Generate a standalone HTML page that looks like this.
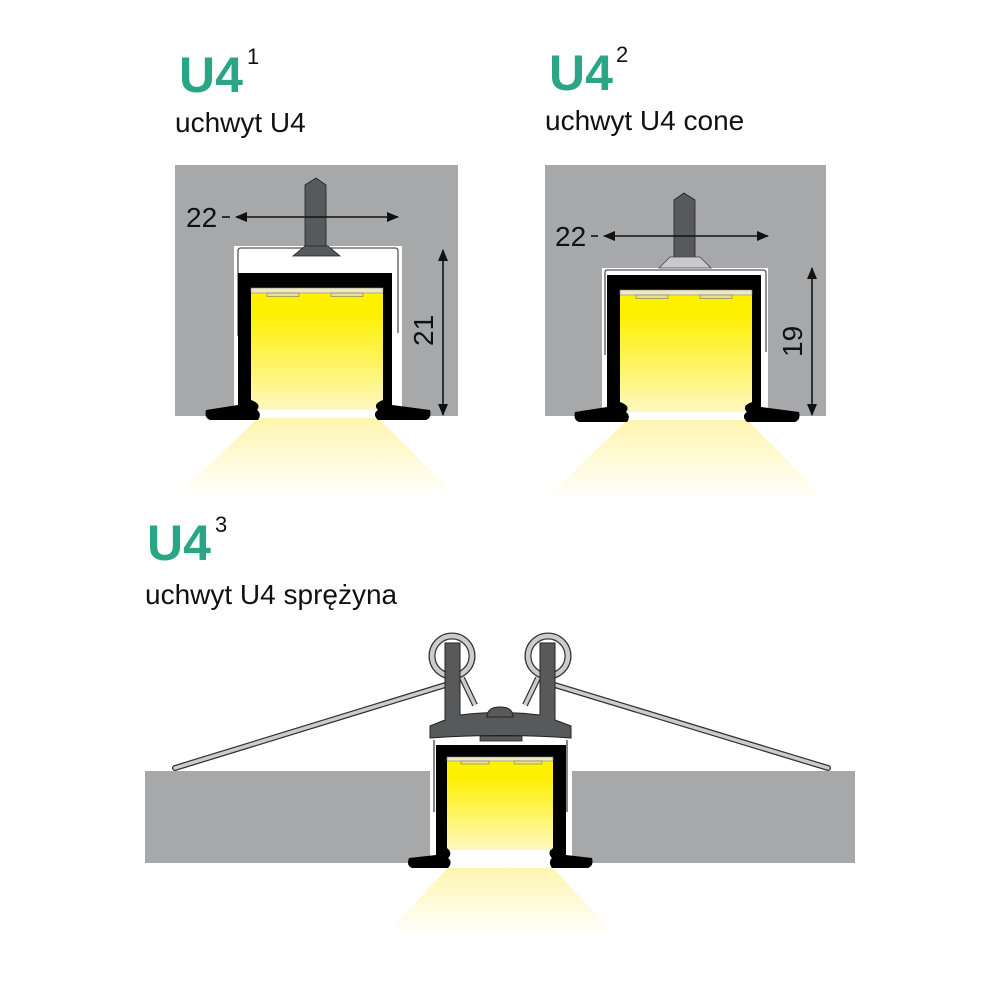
<!DOCTYPE html>
<html><head><meta charset="utf-8"><style>
html,body{margin:0;padding:0;background:#fff;}
svg{display:block;}
text{font-family:"Liberation Sans","DejaVu Sans",sans-serif;}
</style></head><body>
<svg width="1000" height="1000" viewBox="0 0 1000 1000" xmlns="http://www.w3.org/2000/svg">
<defs>
<linearGradient id="yel" x1="0" y1="0" x2="0" y2="1">
<stop offset="0" stop-color="#fff200"/><stop offset="0.2" stop-color="#fff000"/><stop offset="1" stop-color="#fff8c0"/>
</linearGradient>
<linearGradient id="cone" x1="0" y1="0" x2="0" y2="1">
<stop offset="0" stop-color="#fff5b0"/><stop offset="1" stop-color="#ffffff"/>
</linearGradient>
<marker id="ah" markerWidth="12" markerHeight="12" refX="11" refY="6" orient="auto-start-reverse" markerUnits="userSpaceOnUse">
<path d="M0,1 L12,6 L0,11 z" fill="#111"/></marker>
<g id="prof">
<polygon points="258,418 378,418 458,498 175,498" fill="url(#cone)"/>
<path d="M238,273 H392 V405 L430,410 Q432,418 426,420 H378 Q372,414 378,410 Q372,404 378,400 L378,400 H383 V288 H251 V400 Q262,404 257,410 Q262,414 258,420 H210 Q204,418 206,410 L238,405 Z" fill="#000"/>
<rect x="251" y="288" width="132" height="122" fill="url(#yel)"/>
<path d="M251,400 Q262,404 257,410 Q262,414 258,420 L251,420Z M383,400 Q372,404 378,410 Q372,414 378,420 L383,420Z" fill="#000"/>
<rect x="251" y="288" width="132" height="5" fill="#efe9c0" stroke="#888" stroke-width="0.6"/>
<rect x="267" y="293" width="32" height="3.5" fill="#e8e090" stroke="#777" stroke-width="0.6"/>
<rect x="331" y="293" width="32" height="3.5" fill="#e8e090" stroke="#777" stroke-width="0.6"/>
</g>
</defs>

<!-- ===== Profile 1 ===== -->
<text x="179" y="92" font-size="50" font-weight="bold" fill="#2aa585">U4</text>
<text x="247" y="64" font-size="22" fill="#111">1</text>
<text x="175" y="132" font-size="28" fill="#111">uchwyt U4</text>
<rect x="175" y="165" width="283" height="251" fill="#a7a8aa"/>
<rect x="234" y="246" width="168" height="170" fill="#fff"/>
<path d="M238,336 V251 Q238,248 241,248 H395 Q398,248 398,251 V333" fill="none" stroke="#555" stroke-width="1.3"/>
<path d="M305,250 L305,185 L316,178 L326,185 L326,250 Z" fill="#58595b" stroke="#222" stroke-width="0.8"/>
<path d="M293,256 L305,246 H328 L340,256 Z" fill="#58595b" stroke="#222" stroke-width="0.8"/>
<use href="#prof"/>
<line x1="236" y1="217" x2="398" y2="217" stroke="#111" stroke-width="1.6" marker-start="url(#ah)" marker-end="url(#ah)"/>
<line x1="222" y1="217" x2="230" y2="217" stroke="#111" stroke-width="1.6"/>
<text x="186" y="227" font-size="28" fill="#111">22</text>
<line x1="443" y1="250" x2="443" y2="415" stroke="#111" stroke-width="1.6" marker-start="url(#ah)" marker-end="url(#ah)"/>
<text x="0" y="0" font-size="28" fill="#111" transform="translate(433,346) rotate(-90)">21</text>

<!-- ===== Profile 2 ===== -->
<text x="549" y="90" font-size="50" font-weight="bold" fill="#2aa585">U4</text>
<text x="616" y="62" font-size="22" fill="#111">2</text>
<text x="545" y="130" font-size="28" fill="#111">uchwyt U4 cone</text>
<rect x="545" y="165" width="281" height="251" fill="#a7a8aa"/>
<rect x="602" y="268" width="166" height="148" fill="#fff"/>
<path d="M605,355 V272 Q605,270 608,270 H763 Q766,270 766,273 V352" fill="none" stroke="#555" stroke-width="1.3"/>
<path d="M674,263 L674,200 L684,193 L695,200 L695,263 Z" fill="#58595b" stroke="#222" stroke-width="0.8"/>
<path d="M659,268 L670,257 H700 L711,268 Z" fill="#c8c9cb" stroke="#444" stroke-width="0.8"/>
<use href="#prof" transform="translate(369,2)"/>
<line x1="604" y1="236" x2="768" y2="236" stroke="#111" stroke-width="1.6" marker-start="url(#ah)" marker-end="url(#ah)"/>
<line x1="591" y1="236" x2="598" y2="236" stroke="#111" stroke-width="1.6"/>
<text x="555" y="246" font-size="28" fill="#111">22</text>
<line x1="812" y1="268" x2="812" y2="415" stroke="#111" stroke-width="1.6" marker-start="url(#ah)" marker-end="url(#ah)"/>
<text x="0" y="0" font-size="28" fill="#111" transform="translate(802,357) rotate(-90)">19</text>

<!-- ===== Profile 3 ===== -->
<text x="147" y="560" font-size="50" font-weight="bold" fill="#2aa585">U4</text>
<text x="215" y="532" font-size="22" fill="#111">3</text>
<text x="145" y="604" font-size="28" fill="#111">uchwyt U4 sprężyna</text>
<rect x="145" y="771" width="710" height="92" fill="#a7a8aa"/>
<rect x="430" y="745" width="142" height="118" fill="#fff"/>
<polygon points="448,868 553,868 615,935 385,935" fill="url(#cone)"/>
<line x1="175" y1="768" x2="452" y2="683" stroke="#333" stroke-width="6" stroke-linecap="round"/>
<line x1="175" y1="768" x2="452" y2="683" stroke="#ccc" stroke-width="3.5" stroke-linecap="round"/>
<line x1="828" y1="768" x2="548" y2="683" stroke="#333" stroke-width="6" stroke-linecap="round"/>
<line x1="828" y1="768" x2="548" y2="683" stroke="#ccc" stroke-width="3.5" stroke-linecap="round"/>
<circle cx="452" cy="656" r="20" fill="none" stroke="#333" stroke-width="7"/>
<circle cx="452" cy="656" r="20" fill="none" stroke="#ccc" stroke-width="4.5"/>
<circle cx="548" cy="656" r="20" fill="none" stroke="#333" stroke-width="7"/>
<circle cx="548" cy="656" r="20" fill="none" stroke="#ccc" stroke-width="4.5"/>
<line x1="462" y1="678" x2="475" y2="705" stroke="#333" stroke-width="6"/>
<line x1="462" y1="678" x2="475" y2="705" stroke="#ccc" stroke-width="3.5"/>
<line x1="538" y1="678" x2="525" y2="705" stroke="#333" stroke-width="6"/>
<line x1="538" y1="678" x2="525" y2="705" stroke="#ccc" stroke-width="3.5"/>
<path d="M445,643 H460 V715 Q500,710 540,715 V643 H555 V720 L571,726 V738 Q500,733 430,738 V726 L445,720 Z" fill="#58595b" stroke="#222" stroke-width="1"/>
<path d="M487,717 Q487,707 500,707 Q513,707 513,717 Z" fill="#58595b" stroke="#222" stroke-width="1"/>
<rect x="480" y="736" width="42" height="5" fill="#58595b" stroke="#222" stroke-width="0.8"/>
<path d="M436,745 H566 V855 L592,858 Q594,866 588,868 H552 Q548,862 552,858 Q547,853 552,848 H553 V758 H447 V848 Q453,853 448,858 Q453,862 448,868 H412 Q406,866 409,858 L436,855 Z" fill="#000"/>
<rect x="447" y="758" width="106" height="92" fill="url(#yel)"/>
<path d="M447,848 Q453,853 448,858 Q453,862 448,868 L447,868Z M553,848 Q547,853 552,858 Q548,862 552,868 L553,868Z" fill="#000"/>
<rect x="447" y="757" width="106" height="4" fill="#efe9c0" stroke="#888" stroke-width="0.6"/>
<rect x="461" y="761" width="28" height="3" fill="#e8e090" stroke="#777" stroke-width="0.6"/>
<rect x="514" y="761" width="28" height="3" fill="#e8e090" stroke="#777" stroke-width="0.6"/>
<path d="M434,740 V812 M567,740 V812" stroke="#444" stroke-width="1.3"/>
</svg>
</body></html>
